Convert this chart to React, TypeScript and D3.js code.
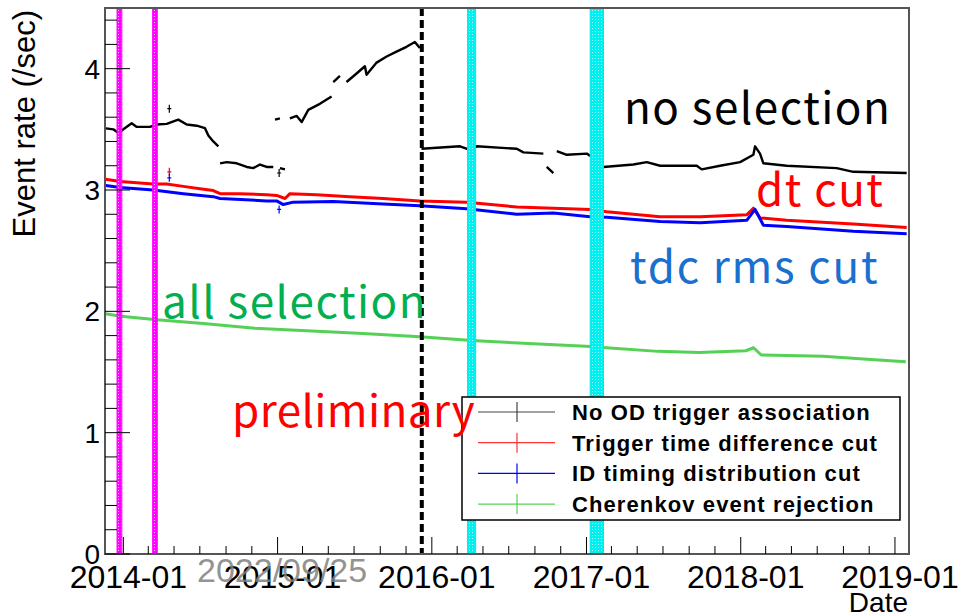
import React, { useEffect, useRef } from 'react'
import * as d3 from 'd3'

// time in decimal years, rate in events/sec. NaN = gap
const noOdTime = [
  2013.875, 2013.935, 2013.968, 2014.0, 2014.054, 2014.087, 2014.173, 2014.216, 2014.281, 2014.356,
  2014.411, 2014.476, 2014.529, 2014.551, 2014.583, 2014.616, 2014.62,
  2014.627, 2014.67, 2014.735, 2014.8, 2014.842, 2014.886, 2014.929, 2014.972, 2014.975,
  2015.015, 2015.048, 2015.05,
  2014.983, 2015.015, 2015.03,
  2015.08, 2015.124, 2015.156, 2015.199, 2015.274, 2015.35, 2015.355,
  2015.361, 2015.404, 2015.42,
  2015.447, 2015.512, 2015.566, 2015.577, 2015.642, 2015.707, 2015.771, 2015.836, 2015.89, 2015.922, 2015.928,
  2015.933, 2016.182, 2016.246, 2016.29, 2016.549, 2016.592, 2016.721, 2016.73,
  2016.743, 2016.786, 2016.8,
  2016.808, 2016.873, 2017.002, 2017.024, 2017.05,
  2017.11, 2017.304, 2017.391, 2017.477, 2017.715, 2017.747, 2017.866, 2017.996, 2018.082, 2018.093,
  2018.125, 2018.147, 2018.298, 2018.622, 2018.73, 2019.076,
]
const noOdRate = [
  3.51, 3.5, 3.47, 3.5, 3.55, 3.52, 3.52, 3.54, 3.545, 3.58,
  3.54, 3.53, 3.51, 3.45, 3.4, 3.36, NaN,
  3.22, 3.23, 3.22, 3.19, 3.18, 3.21, 3.19, 3.19, NaN,
  3.18, 3.17, NaN,
  3.58, 3.59, NaN,
  3.59, 3.61, 3.56, 3.66, 3.71, 3.77, NaN,
  3.89, 3.94, NaN,
  3.89, 3.96, 4.02, 3.95, 4.05, 4.1, 4.14, 4.18, 4.22, 4.17, NaN,
  3.34, 3.36, 3.33, 3.36, 3.34, 3.31, 3.3, NaN,
  3.19, 3.14, NaN,
  3.32, 3.29, 3.3, 3.28, NaN,
  3.19, 3.21, 3.23, 3.2, 3.2, 3.17, 3.2, 3.23, 3.29, 3.36,
  3.3, 3.22, 3.2, 3.18, 3.15, 3.14,
]

const dtTime = [
  2013.875, 2013.979, 2014.194, 2014.281, 2014.389, 2014.497, 2014.583, 2014.627, 2014.756, 2014.929,
  2014.994, 2015.048, 2015.08, 2015.253, 2015.469, 2015.685, 2015.922, 2016.225, 2016.549, 2016.786,
  2017.024, 2017.132, 2017.477, 2017.737, 2018.039, 2018.082, 2018.125, 2018.298, 2018.73, 2019.076,
]
const dtRate = [
  3.09, 3.07, 3.05, 3.05, 3.03, 3.01, 2.995, 2.97, 2.97, 2.96,
  2.955, 2.93, 2.97, 2.96, 2.945, 2.93, 2.91, 2.9, 2.86, 2.85,
  2.84, 2.82, 2.78, 2.78, 2.795, 2.85, 2.77, 2.75, 2.72, 2.69,
]

const tdcTime = [
  2013.875, 2013.979, 2014.194, 2014.389, 2014.583, 2014.627, 2014.929, 2014.994, 2015.037, 2015.101,
  2015.361, 2015.685, 2015.922, 2016.225, 2016.549, 2016.786, 2017.024, 2017.132, 2017.477, 2017.737,
  2018.039, 2018.093, 2018.147, 2018.298, 2018.73, 2019.076,
]
const tdcRate = [
  3.04, 3.02, 3.0, 2.97, 2.945, 2.93, 2.91, 2.91, 2.88, 2.9,
  2.905, 2.885, 2.87, 2.845, 2.8, 2.81, 2.78, 2.775, 2.74, 2.73,
  2.75, 2.84, 2.71, 2.7, 2.66, 2.64,
]

const cherTime = [
  2013.883, 2013.983, 2014.217, 2014.518, 2014.853, 2015.188, 2015.523, 2015.924, 2016.259, 2016.693,
  2017.028, 2017.129, 2017.464, 2017.731, 2018.033, 2018.083, 2018.133, 2018.534, 2018.869, 2019.07,
]
const cherRate = [
  1.98, 1.96, 1.93, 1.9, 1.86, 1.84, 1.82, 1.79, 1.76, 1.73,
  1.71, 1.7, 1.67, 1.66, 1.675, 1.7, 1.64, 1.63, 1.6, 1.585,
]

// isolated points near 2014.3 and 2015.0
const strayTime = [2014.298, 2014.298, 2014.298, 2015.01, 2015.01]
const strayRate = [3.67, 3.15, 3.1, 3.14, 2.84]
const strayColor = ['#000000', '#ff0000', '#0000ff', '#000000', '#0000ff']

const seriesColors = ['#000000', '#ff0000', '#0000ff', '#55d155']
const legendLabels = [
  'No OD trigger association',
  'Trigger time difference cut',
  'ID timing distribution cut',
  'Cherenkov event rejection',
]
const legendLineColors = ['#444444', '#ff3333', '#0000ff', '#55d155']

const magentaBands = [
  [2013.959, 2013.99],
  [2014.19, 2014.22],
]
const cyanBands = [
  [2016.231, 2016.283],
  [2017.024, 2017.11],
]
const dashedLineTime = 2015.935
const dateRange = [2013.881, 2019.091]
const rateRange = [0, 4.5]

const notes = [
  { text: 'no selection', color: '#000000', x: 624, y: 124, spacing: 1.5 },
  { text: 'dt cut', color: '#ff0000', x: 756, y: 206, spacing: 1.5 },
  { text: 'tdc rms cut', color: '#1a6fcf', x: 630, y: 283, spacing: 1.8 },
  { text: 'all selection', color: '#00b050', x: 162, y: 318, spacing: 1.5 },
  { text: 'preliminary', color: '#ff0000', x: 232, y: 427, spacing: 0.4 },
]

const toDate = (t: number) => {
  const yr = Math.floor(t)
  const a = Date.UTC(yr, 0, 1)
  const b = Date.UTC(yr + 1, 0, 1)
  return new Date(a + (t - yr) * (b - a))
}

export default function App(): React.ReactElement {
  const chartRef = useRef<HTMLDivElement>(null)

  useEffect(() => {
    const width = 960
    const height = 615
    const left = 105
    const right = 909
    const top = 8
    const bottom = 554
    const axisFont = 'Liberation Sans, Arial, sans-serif'
    const noteFont = '"Noto Sans CJK JP", "Noto Sans", sans-serif'

    const x = d3
      .scaleUtc()
      .domain(dateRange.map(toDate))
      .range([left, right])
    const y = d3.scaleLinear().domain(rateRange).range([bottom, top])

    d3.select(chartRef.current).select('svg').remove()

    const svg = d3
      .select(chartRef.current)
      .append('svg')
      .attr('width', width)
      .attr('height', height)
      .attr('viewBox', `0 0 ${width} ${height}`)
      .attr('style', 'position:absolute;left:0;top:0;background:#fff')

    const defs = svg.append('defs')
    const dotted = (id: string, base: string, dot: string) => {
      const p = defs
        .append('pattern')
        .attr('id', id)
        .attr('patternUnits', 'userSpaceOnUse')
        .attr('width', 3)
        .attr('height', 3)
      p.append('rect').attr('width', 3).attr('height', 3).attr('fill', base)
      p.append('rect').attr('x', 1).attr('y', 1).attr('width', 1).attr('height', 1).attr('fill', dot)
    }
    dotted('mag', '#ff00ff', '#ffb0ff')
    dotted('cya', '#00f0f0', '#b0ffff')

    svg.append('rect').attr('x', 0).attr('y', 0).attr('width', width).attr('height', height).attr('fill', '#fff')

    // data series
    const series = [
      [noOdTime, noOdRate],
      [dtTime, dtRate],
      [tdcTime, tdcRate],
      [cherTime, cherRate],
    ]
    const line = d3
      .line<[number, number]>()
      .defined((d) => !isNaN(d[1]))
      .x((d) => x(toDate(d[0])))
      .y((d) => y(d[1]))

    series.forEach(([ts, vs], i) => {
      const pts = ts.map((t, k) => [t, vs[k]] as [number, number])
      svg
        .append('path')
        .attr('d', line(pts))
        .attr('fill', 'none')
        .attr('stroke', seriesColors[i])
        .attr('stroke-width', i === 0 ? 2.4 : 3)
        .attr('stroke-linejoin', 'round')
    })

    svg
      .append('g')
      .selectAll('path')
      .data(strayTime.map((t, k) => [t, strayRate[k], k]))
      .join('path')
      .attr('d', (d) => {
        const px = x(toDate(d[0]))
        const py = y(d[1])
        return `M${px - 2},${py}H${px + 2}M${px},${py - 4}V${py + 4}`
      })
      .attr('stroke', (d) => strayColor[d[2]])
      .attr('stroke-width', 1.2)

    // bands
    const band = (list: number[][], fill: string, edge: string) =>
      svg
        .append('g')
        .selectAll('rect')
        .data(list)
        .join('rect')
        .attr('x', (d) => x(toDate(d[0])))
        .attr('y', top)
        .attr('width', (d) => x(toDate(d[1])) - x(toDate(d[0])))
        .attr('height', bottom - top)
        .attr('fill', `url(#${fill})`)
        .attr('stroke', edge)
        .attr('stroke-width', 1)
    band(magentaBands, 'mag', '#ff00ff')
    band(cyanBands, 'cya', '#00eaea')

    svg
      .append('line')
      .attr('x1', x(toDate(dashedLineTime)))
      .attr('x2', x(toDate(dashedLineTime)))
      .attr('y1', top)
      .attr('y2', bottom)
      .attr('stroke', '#000')
      .attr('stroke-width', 4)
      .attr('stroke-dasharray', '8 4')

    // legend
    const lg = svg.append('g')
    lg.append('rect')
      .attr('x', 462)
      .attr('y', 397)
      .attr('width', 438)
      .attr('height', 123)
      .attr('fill', '#fff')
      .attr('stroke', '#000')
      .attr('stroke-width', 1.5)
    legendLabels.forEach((label, i) => {
      const cy = 412 + i * 30.7
      lg.append('line')
        .attr('x1', 478)
        .attr('x2', 555)
        .attr('y1', cy)
        .attr('y2', cy)
        .attr('stroke', legendLineColors[i])
        .attr('stroke-width', 1.2)
      lg.append('line')
        .attr('x1', 517)
        .attr('x2', 517)
        .attr('y1', cy - 10)
        .attr('y2', cy + 10)
        .attr('stroke', legendLineColors[i])
        .attr('stroke-width', 1.2)
      lg.append('text')
        .attr('x', 572)
        .attr('y', cy + 8)
        .attr('font-family', axisFont)
        .attr('font-weight', 'bold')
        .attr('font-size', 22)
        .attr('letter-spacing', 1.1)
        .attr('fill', '#000')
        .text(label)
    })

    // annotations
    svg
      .append('g')
      .selectAll('text')
      .data(notes)
      .join('text')
      .attr('x', (d) => d.x)
      .attr('y', (d) => d.y)
      .attr('fill', (d) => d.color)
      .attr('font-family', noteFont)
      .attr('font-size', 44)
      .attr('letter-spacing', (d) => d.spacing)
      .text((d) => d.text)

    // frame
    svg
      .append('rect')
      .attr('x', left)
      .attr('y', top)
      .attr('width', right - left)
      .attr('height', bottom - top)
      .attr('fill', 'none')
      .attr('stroke', '#555')
      .attr('stroke-width', 2)

    // y axis
    const yMinor = d3.range(0, 4.5, 0.2)
    svg
      .append('g')
      .selectAll('line')
      .data(yMinor)
      .join('line')
      .attr('x1', left)
      .attr('x2', (d) => left + (Math.abs(d - Math.round(d)) < 1e-6 ? 25 : 12))
      .attr('y1', (d) => y(d))
      .attr('y2', (d) => y(d))
      .attr('stroke', '#000')
      .attr('stroke-width', 1)
    svg
      .append('g')
      .selectAll('text')
      .data(y.ticks(5).filter((d) => Number.isInteger(d)))
      .join('text')
      .attr('x', left - 5)
      .attr('y', (d) => y(d) + 10)
      .attr('text-anchor', 'end')
      .attr('font-family', axisFont)
      .attr('font-size', 28)
      .text((d) => d3.format('d')(d))

    svg
      .append('text')
      .attr('transform', 'translate(35,10) rotate(-90)')
      .attr('text-anchor', 'end')
      .attr('font-family', axisFont)
      .attr('font-size', 31)
      .text('Event rate (/sec)')

    // x axis
    const [d0, d1] = x.domain()
    const xMinor = d3.utcMonth.every(2)!.range(d0, d1)
    const xMajor = d3.utcYear.range(d0, d1)
    svg
      .append('g')
      .selectAll('line')
      .data(xMinor)
      .join('line')
      .attr('x1', (d) => x(d))
      .attr('x2', (d) => x(d))
      .attr('y1', bottom)
      .attr('y2', (d) => bottom - (d.getUTCMonth() === 0 ? 17 : 8))
      .attr('stroke', '#000')
      .attr('stroke-width', 1)
    svg
      .append('g')
      .selectAll('text')
      .data(xMajor)
      .join('text')
      .attr('x', (d) => x(d) + 5)
      .attr('y', 588)
      .attr('text-anchor', 'middle')
      .attr('font-family', axisFont)
      .attr('font-size', 32)
      .text((d) => d3.utcFormat('%Y-%m')(d))

    svg
      .append('text')
      .attr('x', 908)
      .attr('y', 612)
      .attr('text-anchor', 'end')
      .attr('font-family', axisFont)
      .attr('font-size', 28)
      .text('Date')

    svg
      .append('text')
      .attr('x', 197)
      .attr('y', 582)
      .attr('font-family', axisFont)
      .attr('font-size', 34)
      .attr('fill', '#808080')
      .attr('fill-opacity', 0.85)
      .text('2022/09/25')
  }, [])

  return <div ref={chartRef}></div>
}
